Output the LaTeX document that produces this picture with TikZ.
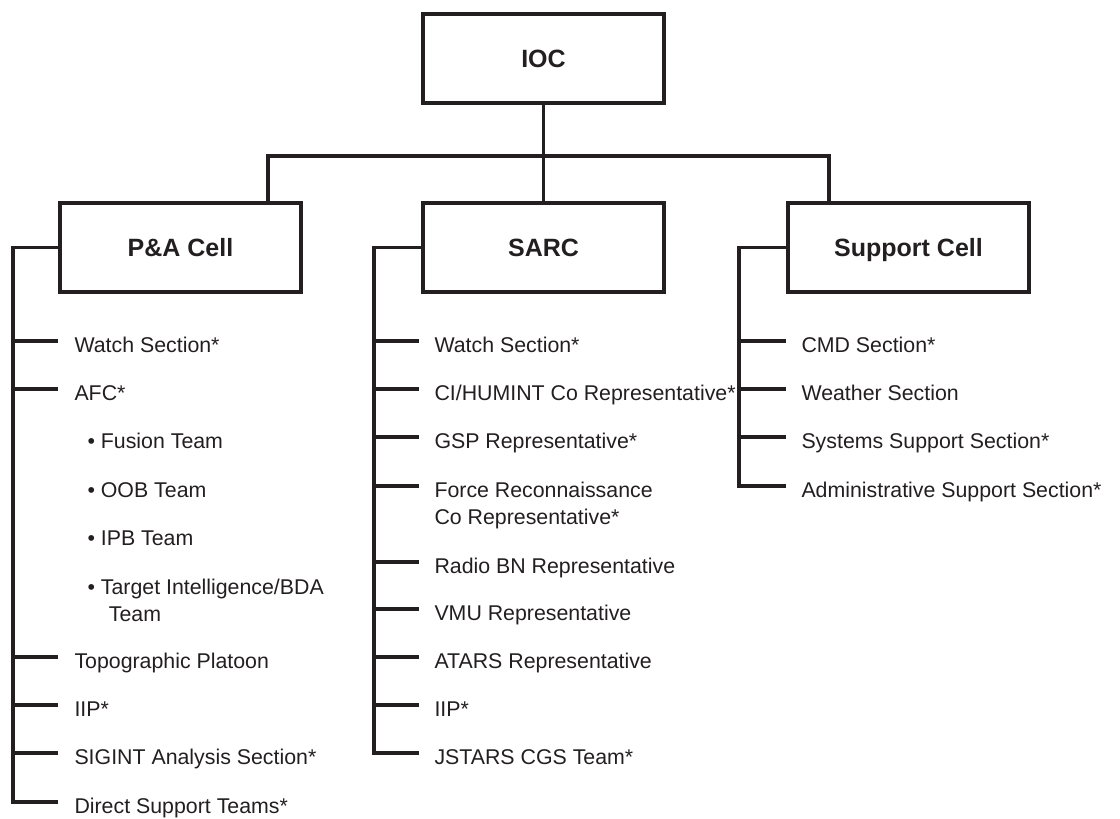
\documentclass[tikz,border=0pt]{standalone}
\usepackage{fontspec}
\setmainfont{Liberation Sans}
\usetikzlibrary{positioning}
\definecolor{inkgray}{RGB}{35,31,32}
\newcommand{\twolines}[2]{\vtop{\hbox{#1}\hbox{#2}}}
\tikzset{every picture/.style={line width=0.75pt}}
\tikzset{
	cellbox/.style={draw=inkgray, line width=3pt, minimum width=180.75pt, minimum height=66.75pt, inner sep=0pt, text height=13.4pt, text depth=0pt, text=inkgray, font=\bfseries\fontsize{18.75}{22}\selectfont},
	link/.style={draw=inkgray, line width=2.4pt, line join=miter},
	tick/.style={draw=inkgray, line width=3pt},
	item/.style={anchor=base west, inner sep=0pt, text=inkgray, font=\fontsize{16}{20.25}\selectfont}
}

\begin{document}
\begin{tikzpicture}[x=0.75pt,y=0.75pt,yscale=-1,xscale=1]
		\useasboundingbox (0,0) rectangle (1120,818);
		
		%Shape: Rectangle [IOC]
		\node[cellbox] (ioc) at (543.5,58.5) {IOC};
		%Shape: Rectangle [cells]
		\node[cellbox] (pacell) at (180.5,247.5) {P\&A Cell};
		\node[cellbox] (sarc) at (543.5,247.5) {SARC};
		\node[cellbox] (supcell) at (908.5,247.5) {Support Cell};
		
		%Connectors IOC -> cells
		\coordinate (bus) at (543.5,156);
		\draw[link] (ioc.south) -- (sarc.north);
		\draw[link] ([xshift=65.6pt]pacell.north) |- (bus) -| ([xshift=-59.6pt]supcell.north);
		
		% Text Node [P&A Cell]
		\foreach \y/\id/\txt in {341/pa1/{Watch Section*}, 389/pa2/{AFC*}, 657/pa3/{Topographic Platoon}, 705/pa4/{IIP*}, 753/pa5/{SIGINT Analysis Section*}, 802/pa6/{Direct Support Teams*}}{
			\node[item] (\id) at ([yshift=8.25pt]74,\y) {\txt};
			\draw[tick] (\id.base west) ++(-16,-11) coordinate (\id-e) -- ++(-45,0) coordinate (\id-s);
		}
		\foreach \y/\id/\txt in {437/pb1/{Fusion Team}, 486/pb2/{OOB Team}, 534/pb3/{IPB Team}, 583/pb4/{\twolines{Target Intelligence/BDA}{\hspace*{6pt}Team}}}{
			\node[item] (\id) at ([yshift=8.25pt]87,\y) {\textbullet\ \txt};
		}
		\draw[link] (pacell.west) -| (pa6-s) -- (pa6-e);
		
		% Text Node [SARC]
		\foreach \y/\id/\txt in {341/sa1/{Watch Section*}, 389/sa2/{CI/HUMINT Co Representative*}, 437/sa3/{GSP Representative*}, 486/sa4/{\twolines{Force Reconnaissance}{Co Representative*}}, 562/sa5/{Radio BN Representative}, 609/sa6/{VMU Representative}, 657/sa7/{ATARS Representative}, 705/sa8/{IIP*}, 753/sa9/{JSTARS CGS Team*}}{
			\node[item] (\id) at ([yshift=8.25pt]434,\y) {\txt};
			\draw[tick] (\id.base west) ++(-15,-11) coordinate (\id-e) -- ++(-45,0) coordinate (\id-s);
		}
		\draw[link] (sarc.west) -| (sa9-s) -- (sa9-e);
		
		% Text Node [Support Cell]
		\foreach \y/\id/\txt in {341/su1/{CMD Section*}, 389/su2/{Weather Section}, 437/su3/{Systems Support Section*}, 486/su4/{Administrative Support Section*}}{
			\node[item] (\id) at ([yshift=8.25pt]801,\y) {\txt};
			\draw[tick] (\id.base west) ++(-15,-11) coordinate (\id-e) -- ++(-47,0) coordinate (\id-s);
		}
		\draw[link] (supcell.west) -| (su4-s) -- (su4-e);
		
\end{tikzpicture}
\end{document}
